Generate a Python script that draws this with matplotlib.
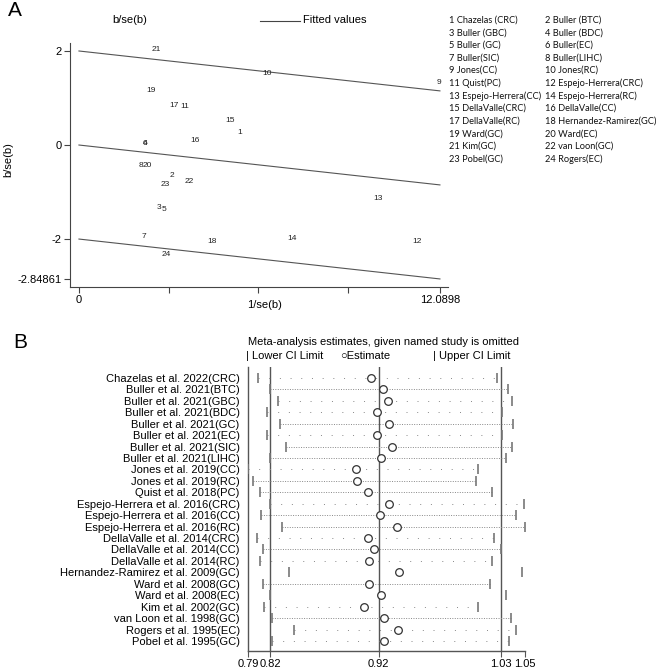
import matplotlib.pyplot as plt
from matplotlib.lines import Line2D

plt.rcParams['font.family'] = ['Liberation Sans', 'DejaVu Sans']

# ---- panel A : Galbraith plot ----
study_ids = list(range(1, 25))
precision = [5.39, 3.11, 2.68, 2.21, 2.85, 2.21, 2.18, 2.08, 12.06, 6.30, 3.55, 11.32,
             10.01, 7.13, 5.06, 3.88, 3.20, 4.45, 2.41, 2.28, 2.58, 3.68, 2.88, 2.91]
z_stat = [0.26, -0.64, -1.32, 0.04, -1.38, 0.04, -1.94, -0.43, 1.32, 1.53, 0.81, -2.06,
          -1.13, -1.98, 0.53, 0.09, 0.85, -2.06, 1.17, -0.43, 2.04, -0.77, -0.85, -2.32]
x_max = 12.0898
y_min = -2.84861
fit_slope = (y_min + 2) / x_max   # fitted line reaches -0.84861 at x_max
band_offsets = [2, 0, -2]

key_names = ['1 Chazelas (CRC)', '2 Buller (BTC)', '3 Buller (GBC)', '4 Buller (BDC)',
             '5 Buller (GC)', '6 Buller(EC)', '7 Buller(SIC)', '8 Buller(LIHC)',
             '9 Jones(CC)', '10 Jones(RC)', '11 Quist(PC)', '12 Espejo-Herrera(CRC)',
             '13 Espejo-Herrera(CC)', '14 Espejo-Herrera(RC)', '15 DellaValle(CRC)',
             '16 DellaValle(CC)', '17 DellaValle(RC)', '18 Hernandez-Ramirez(GC)',
             '19 Ward(GC)', '20 Ward(EC)', '21 Kim(GC)', '22 van Loon(GC)',
             '23 Pobel(GC)', '24 Rogers(EC)']

# ---- panel B : leave-one-out estimates ----
studies = ['Chazelas et al. 2022(CRC)', 'Buller et al. 2021(BTC)', 'Buller et al. 2021(GBC)',
           'Buller et al. 2021(BDC)', 'Buller et al. 2021(GC)', 'Buller et al. 2021(EC)',
           'Buller et al. 2021(SIC)', 'Buller et al. 2021(LIHC)', 'Jones et al. 2019(CC)',
           'Jones et al. 2019(RC)', 'Quist et al. 2018(PC)', 'Espejo-Herrera et al. 2016(CRC)',
           'Espejo-Herrera et al. 2016(CC)', 'Espejo-Herrera et al. 2016(RC)',
           'DellaValle et al. 2014(CRC)', 'DellaValle et al. 2014(CC)', 'DellaValle et al. 2014(RC)',
           'Hernandez-Ramirez et al. 2009(GC)', 'Ward et al. 2008(GC)', 'Ward et al. 2008(EC)',
           'Kim et al. 2002(GC)', 'van Loon et al. 1998(GC)', 'Rogers et al. 1995(EC)',
           'Pobel et al. 1995(GC)']
lower = [0.811, 0.822, 0.829, 0.819, 0.831, 0.819, 0.836, 0.822, 0.802, 0.806, 0.813, 0.822,
         0.814, 0.833, 0.810, 0.815, 0.813, 0.839, 0.815, 0.822, 0.816, 0.824, 0.843, 0.824]
estimate = [0.913, 0.924, 0.928, 0.918, 0.929, 0.918, 0.932, 0.922, 0.899, 0.900, 0.910, 0.929,
            0.921, 0.936, 0.910, 0.916, 0.911, 0.938, 0.911, 0.922, 0.907, 0.925, 0.937, 0.925]
upper = [1.027, 1.037, 1.040, 1.031, 1.041, 1.031, 1.040, 1.035, 1.010, 1.008, 1.022, 1.051,
         1.044, 1.052, 1.024, 1.030, 1.022, 1.049, 1.020, 1.035, 1.010, 1.039, 1.044, 1.038]
dot_style = ['sparse', 'dense', 'sparse', 'sparse', 'dense', 'sparse', 'dense', 'dense',
             'sparse', 'dense', 'dense', 'sparse', 'dense', 'dense', 'sparse', 'dense',
             'sparse', 'none', 'dense', 'none', 'sparse', 'dense', 'sparse', 'sparse']
overall = [0.822, 0.92, 1.03]
b_ticks = [0.802, 0.822, 0.92, 1.03, 1.052]
b_tick_labels = ['0.79', '0.82', '0.92', '1.03', '1.05']

W = 669.0
fig = plt.figure(figsize=(6.69, 6.69), dpi=100)

def fx(px):
    return px / W

def fy(py):
    return 1 - py / W

# ---------------- A ----------------
axA = fig.add_axes([fx(70), fy(287), 378 / W, 244 / W])
axA.set_xlim(-0.3, 12.36)
axA.set_ylim(-3.02, 2.17)
for s in ['top', 'right']:
    axA.spines[s].set_visible(False)
for s in ['left', 'bottom']:
    axA.spines[s].set_color('#444444')
    axA.spines[s].set_linewidth(0.8)

for off in band_offsets:
    axA.plot([0, x_max], [off, off + fit_slope * x_max], color='#555555', lw=0.8)

for i in range(len(study_ids)):
    axA.text(precision[i], z_stat[i], str(study_ids[i]), fontsize=6,
             ha='center', va='center', color='#222222')

axA.set_xticks([0, 3, 6, 9, x_max])
axA.set_xticklabels(['0', '', '', '', '12.0898'])
axA.set_yticks([2, 0, -2, y_min])
axA.set_yticklabels(['2', '0', '-2', '-2.84861'])
axA.tick_params(length=4, width=0.8, color='#444444', labelsize=8, pad=2)

fig.text(fx(15), fy(11), 'A', fontsize=15, ha='center', va='center')
fig.text(fx(130), fy(20), 'b/se(b)', fontsize=8, ha='center', va='center')
fig.add_artist(Line2D([fx(260), fx(300)], [fy(21), fy(21)], color='#444444', lw=0.8))
fig.text(fx(303), fy(20), 'Fitted values', fontsize=8, ha='left', va='center')
fig.text(fx(8), fy(160), 'b/se(b)', fontsize=8, rotation=90, ha='center', va='center')
fig.text(fx(265), fy(305), '1/se(b)', fontsize=8, ha='center', va='center')

for k, name in enumerate(key_names):
    col = k % 2
    row = k // 2
    fig.text(fx(449 if col == 0 else 545), fy(20 + row * 12.64), name,
             fontsize=6.7, family=['Lato', 'DejaVu Sans'], ha='left', va='center',
             color='#111111')

# ---------------- B ----------------
axB = fig.add_axes([fx(248), fy(651), 277 / W, 284 / W])
axB.set_xlim(0.8019, 1.0517)
axB.set_ylim(23.88, -0.96)
for s in ['top', 'right']:
    axB.spines[s].set_visible(False)
for s in ['left', 'bottom']:
    axB.spines[s].set_color('#555555')
    axB.spines[s].set_linewidth(1.0)

for v in overall:
    axB.axvline(v, color='#555555', lw=1.0, zorder=1)

for i in range(len(studies)):
    if dot_style[i] == 'dense':
        axB.plot([lower[i], upper[i]], [i, i], color='#888888', lw=0.7,
                 linestyle=(0, (1, 1.5)), zorder=2)
    elif dot_style[i] == 'sparse':
        axB.plot([lower[i], upper[i]], [i, i], color='#888888', lw=0.7,
                 linestyle=(0, (1, 10)), zorder=2)
    axB.plot([lower[i], upper[i]], [i, i], linestyle='none', marker='|',
             markersize=7, mew=1.2, color='#777777', zorder=3)
    axB.plot(estimate[i], i, marker='o', markersize=5.5, mfc='white',
             mec='#333333', mew=0.9, zorder=4)

axB.set_yticks(range(len(studies)))
axB.set_yticklabels(studies, fontsize=8)
axB.tick_params(axis='y', length=0, pad=6)
axB.set_xticks(b_ticks)
axB.set_xticklabels(b_tick_labels, fontsize=8)
axB.tick_params(axis='x', length=4, width=0.8, color='#555555', pad=2)

fig.text(fx(20), fy(343), 'B', fontsize=15, ha='center', va='center')
fig.text(fx(384), fy(342), 'Meta-analysis estimates, given named study is omitted',
         fontsize=8, ha='center', va='center')
fig.text(fx(246), fy(356), '| Lower CI Limit', fontsize=8, ha='left', va='center')
fig.text(fx(340), fy(356), '\u25cbEstimate', fontsize=8, ha='left', va='center')
fig.text(fx(433), fy(356), '| Upper CI Limit', fontsize=8, ha='left', va='center')

fig.savefig('out.png', dpi=100)
